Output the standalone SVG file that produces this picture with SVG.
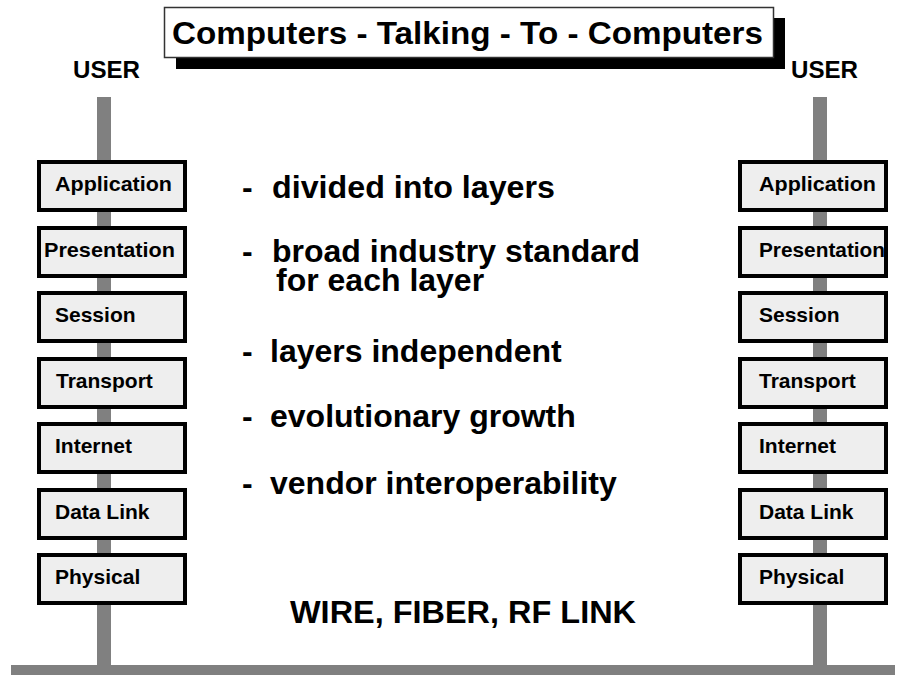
<svg xmlns="http://www.w3.org/2000/svg" width="905" height="675" viewBox="0 0 905 675">
<style>
text{font-family:"Liberation Sans",Arial,sans-serif;font-weight:bold;fill:#000}
.layer rect{fill:#eeeeee;stroke:#000;stroke-width:4}
.layer text{font-size:21px}
.bullet{font-size:32px}
.bar{fill:#808080}
</style>
<rect width="905" height="675" fill="#fff"/>
<g id="title">
<rect x="176" y="18" width="609" height="51" fill="#000"/>
<rect x="164.5" y="7.5" width="609" height="50" fill="#fff" stroke="#333" stroke-width="1.5"/>
<text x="172" y="44" font-size="31" textLength="591" lengthAdjust="spacingAndGlyphs">Computers - Talking - To - Computers</text>
</g>
<g id="connectors">
<rect class="bar" x="97" y="97" width="14" height="570"/>
<rect class="bar" x="813" y="97" width="14" height="570"/>
<rect class="bar" x="11" y="665" width="884" height="10"/>
</g>
<g id="user-left"><text x="73" y="78" font-size="23" textLength="67" lengthAdjust="spacingAndGlyphs">USER</text></g>
<g id="user-right"><text x="791" y="78" font-size="23" textLength="67" lengthAdjust="spacingAndGlyphs">USER</text></g>
<g id="left-stack">
<g id="l-application" class="layer"><rect x="39" y="162" width="146" height="48"/><text x="55" y="191" textLength="117" lengthAdjust="spacingAndGlyphs">Application</text></g>
<g id="l-presentation" class="layer"><rect x="39" y="228" width="146" height="48"/><text x="44" y="257" textLength="131" lengthAdjust="spacingAndGlyphs">Presentation</text></g>
<g id="l-session" class="layer"><rect x="39" y="293" width="146" height="48"/><text x="55" y="322">Session</text></g>
<g id="l-transport" class="layer"><rect x="39" y="359" width="146" height="48"/><text x="56" y="388">Transport</text></g>
<g id="l-internet" class="layer"><rect x="39" y="424" width="146" height="48"/><text x="55" y="453">Internet</text></g>
<g id="l-datalink" class="layer"><rect x="39" y="490" width="146" height="48"/><text x="55" y="519">Data Link</text></g>
<g id="l-physical" class="layer"><rect x="39" y="555" width="146" height="48"/><text x="55" y="584">Physical</text></g>
</g>
<g id="right-stack">
<g id="r-application" class="layer"><rect x="740" y="162" width="146" height="48"/><text x="759" y="191" textLength="117" lengthAdjust="spacingAndGlyphs">Application</text></g>
<g id="r-presentation" class="layer"><rect x="740" y="228" width="146" height="48"/><text x="759" y="257" textLength="126" lengthAdjust="spacingAndGlyphs">Presentation</text></g>
<g id="r-session" class="layer"><rect x="740" y="293" width="146" height="48"/><text x="759" y="322">Session</text></g>
<g id="r-transport" class="layer"><rect x="740" y="359" width="146" height="48"/><text x="759" y="388">Transport</text></g>
<g id="r-internet" class="layer"><rect x="740" y="424" width="146" height="48"/><text x="759" y="453">Internet</text></g>
<g id="r-datalink" class="layer"><rect x="740" y="490" width="146" height="48"/><text x="759" y="519">Data Link</text></g>
<g id="r-physical" class="layer"><rect x="740" y="555" width="146" height="48"/><text x="759" y="584">Physical</text></g>
</g>
<g id="bullets">
<text class="bullet" x="242" y="198">-</text><text class="bullet" x="272" y="198" textLength="283" lengthAdjust="spacingAndGlyphs">divided into layers</text>
<text class="bullet" x="242" y="262">-</text><text class="bullet" x="272" y="262">broad industry standard</text>
<text class="bullet" x="276" y="291">for each layer</text>
<text class="bullet" x="242" y="362">-</text><text class="bullet" x="270" y="362">layers independent</text>
<text class="bullet" x="242" y="427">-</text><text class="bullet" x="270" y="427">evolutionary growth</text>
<text class="bullet" x="242" y="494">-</text><text class="bullet" x="270" y="494">vendor interoperability</text>
</g>
<g id="medium"><text class="bullet" x="290" y="623" textLength="346" lengthAdjust="spacingAndGlyphs">WIRE, FIBER, RF LINK</text></g>
</svg>
